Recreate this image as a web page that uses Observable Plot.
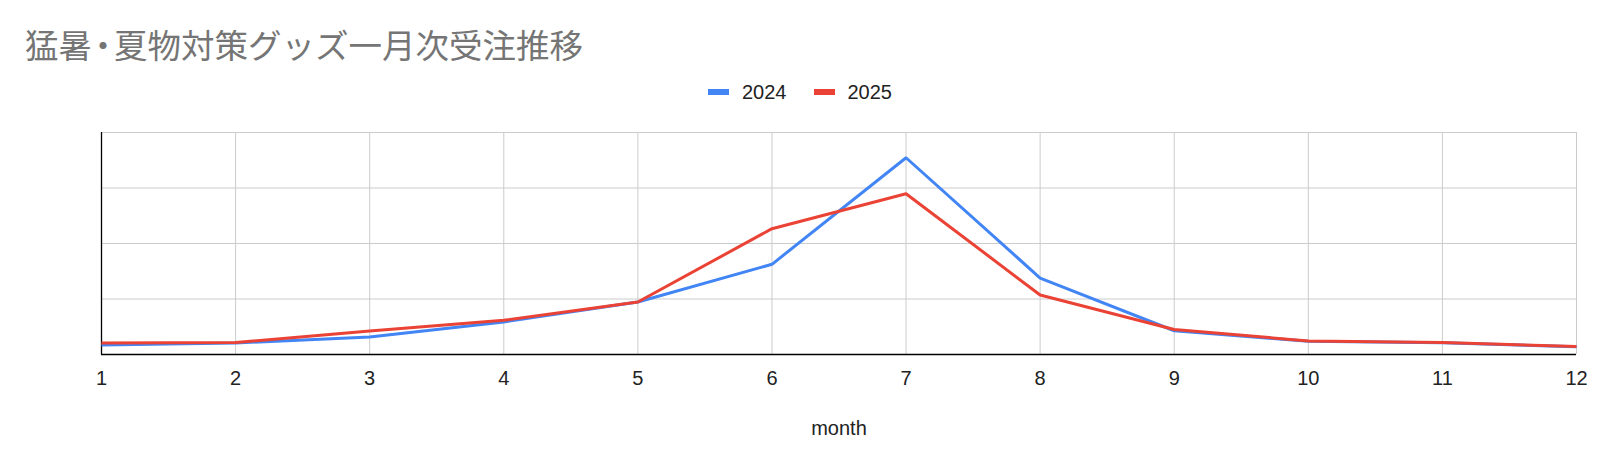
<!DOCTYPE html>
<html>
<head>
<meta charset="utf-8">
<script src="https://cdn.jsdelivr.net/npm/d3@7"></script>
<script src="https://cdn.jsdelivr.net/npm/@observablehq/plot@0.6"></script>
<style>
  html, body { margin: 0; padding: 0; background: #fff; }
  #wrap { position: relative; width: 1600px; height: 468px; overflow: hidden; }
  #title { position: absolute; left: 25px; top: 27px; font-family: "Noto Sans CJK JP", sans-serif; font-size: 33.5px; line-height: 34px; color: #757575; white-space: nowrap; }
  #title .dot { display: inline-block; font-feature-settings: "palt" 1; }
  #legend { position: absolute; left: 0; top: 80px; width: 1600px; height: 24px; display: flex; justify-content: center; align-items: center; font-family: "Liberation Sans", Arial, sans-serif; font-size: 20px; color: #222; }
  .item { display: flex; align-items: center; }
  .item + .item { margin-left: 27px; }
  .sw { width: 21px; height: 6px; margin-right: 13px; }
  #chart { position: absolute; left: 0; top: 100px; }
</style>
</head>
<body>
<div id="wrap">
  <div id="title"></div>
  <div id="legend"></div>
  <div id="chart"></div>
</div>
<script>
const titleText = "猛暑・夏物対策グッズ一月次受注推移";
const xLabel = "month";
const months = [1, 2, 3, 4, 5, 6, 7, 8, 9, 10, 11, 12];
const seriesNames = ["2024", "2025"];
const seriesColors = ["#4285f4", "#ea4335"];
const values2024 = [173, 207, 317, 587, 946, 1625, 3545, 1378, 428, 239, 212, 140];
const values2025 = [209, 216, 425, 617, 946, 2267, 2897, 1072, 450, 245, 216, 144];
const yGridTicks = [0, 1000, 2000, 3000, 4000];

// Title: the middle dot is set proportionally (narrow), as in the reference
const titleEl = document.getElementById("title");
const dots = [];
titleText.split("・").forEach((part, i) => {
  if (i > 0) {
    const dot = document.createElement("span");
    dot.className = "dot";
    dot.textContent = "・";
    titleEl.appendChild(dot);
    dots.push(dot);
  }
  titleEl.appendChild(document.createTextNode(part));
});
dots.forEach(dot => {
  const w = dot.getBoundingClientRect().width;
  if (w < 22) {
    const pad = (22 - w) / 2;
    dot.style.paddingLeft = pad + "px";
    dot.style.paddingRight = pad + "px";
  }
});

const legend = document.getElementById("legend");
seriesNames.forEach((name, i) => {
  const item = document.createElement("div");
  item.className = "item";
  const sw = document.createElement("div");
  sw.className = "sw";
  sw.style.background = seriesColors[i];
  const t = document.createElement("span");
  t.textContent = name;
  item.appendChild(sw);
  item.appendChild(t);
  legend.appendChild(item);
});

const rows = [];
months.forEach((m, i) => rows.push({month: m, value: values2024[i], series: seriesNames[0]}));
months.forEach((m, i) => rows.push({month: m, value: values2025[i], series: seriesNames[1]}));

const chart = Plot.plot({
  width: 1600,
  height: 368,
  marginLeft: 101,
  marginRight: 24,
  marginTop: 32,
  marginBottom: 114,
  style: {fontFamily: "'Liberation Sans', Arial, sans-serif", fontSize: "20px", color: "#222", background: "#fff"},
  x: {type: "linear", domain: [1, 12]},
  y: {domain: [0, 4000], axis: null},
  color: {domain: seriesNames, range: seriesColors},
  marks: [
    Plot.gridX({ticks: months, stroke: "#cccccc", strokeOpacity: 1, strokeWidth: 1}),
    Plot.gridY({ticks: yGridTicks, stroke: "#cccccc", strokeOpacity: 1, strokeWidth: 1}),
    Plot.ruleX([months[0]], {stroke: "#000", strokeWidth: 1.3}),
    Plot.ruleY([0], {stroke: "#000", strokeWidth: 1.3}),
    Plot.line(rows, {x: "month", y: "value", z: "series", stroke: "series", strokeWidth: 3, strokeLinejoin: "miter", strokeLinecap: "butt"}),
    Plot.axisX({ticks: months, tickSize: 0, tickPadding: 16, tickFormat: d => String(d), label: null, fill: "#222"}),
    Plot.text([xLabel], {text: d => d, frameAnchor: "bottom", dy: 80, fill: "#222", fontSize: 20})
  ]
});
document.getElementById("chart").appendChild(chart);
</script>
</body>
</html>
